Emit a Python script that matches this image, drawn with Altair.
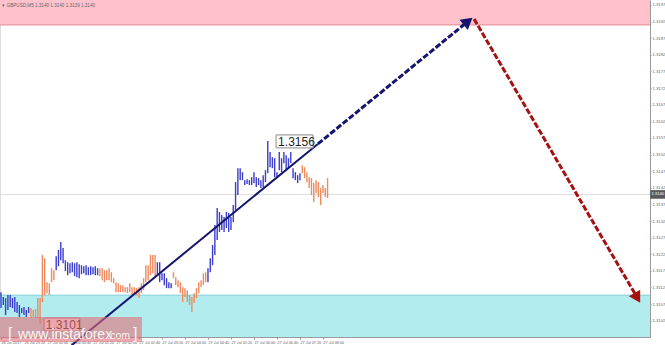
import json
import altair as alt
import pandas as pd

# ---------------- data ----------------
bar_high = [1.31106, 1.31091, 1.31088, 1.31097, 1.31097, 1.31088, 1.31091, 1.31076, 1.31067, 1.31058,
            1.31061, 1.31052, 1.31061, 1.31058, 1.31052, 1.31055, 1.31088, 1.31088, 1.31218, 1.31208,
            1.31136, 1.31133, 1.31178, 1.31172, 1.31214, 1.31233, 1.31257, 1.31239, 1.31202, 1.31196,
            1.31193, 1.31196, 1.31193, 1.31196, 1.31190, 1.31187, 1.31184, 1.31187, 1.31181, 1.31184,
            1.31181, 1.31184, 1.31178, 1.31178, 1.31178, 1.31172, 1.31172, 1.31178, 1.31166, 1.31148,
            1.31136, 1.31133, 1.31127, 1.31127, 1.31121, 1.31121, 1.31133, 1.31121, 1.31121, 1.31118,
            1.31121, 1.31133, 1.31148, 1.31187, 1.31187, 1.31218, 1.31218, 1.31218, 1.31196, 1.31196,
            1.31163, 1.31163, 1.31148, 1.31136, 1.31133, 1.31166, 1.31151, 1.31142, 1.31136, 1.31121,
            1.31118, 1.31112, 1.31097, 1.31091, 1.31103, 1.31118, 1.31136, 1.31142, 1.31163, 1.31166,
            1.31178, 1.31208, 1.31248, 1.31308, 1.31359, 1.31347, 1.31338, 1.31332, 1.31347, 1.31344,
            1.31332, 1.31368, 1.31437, 1.31479, 1.31479, 1.31467, 1.31443, 1.31446, 1.31443, 1.31452,
            1.31467, 1.31452, 1.31449, 1.31443, 1.31458, 1.31473, 1.31561, 1.31528, 1.31512, 1.31509,
            1.31467, 1.31528, 1.31509, 1.31528, 1.31518, 1.31509, 1.31528, 1.31479, 1.31467, 1.31458,
            1.31464, 1.31488, 1.31482, 1.31467, 1.31452, 1.31449, 1.31434, 1.31443, 1.31437, 1.31419,
            1.31428, 1.31419, 1.31449]
bar_low = [1.31058, 1.31067, 1.31037, 1.31052, 1.31061, 1.31058, 1.31046, 1.31043, 1.31031, 1.31043,
           1.31037, 1.31031, 1.31043, 1.31028, 1.31031, 1.31028, 1.31028, 1.31010, 1.31076, 1.31097,
           1.31103, 1.31097, 1.31136, 1.31142, 1.31172, 1.31184, 1.31202, 1.31193, 1.31169, 1.31157,
           1.31163, 1.31166, 1.31154, 1.31151, 1.31148, 1.31160, 1.31163, 1.31157, 1.31157, 1.31157,
           1.31160, 1.31157, 1.31157, 1.31154, 1.31142, 1.31136, 1.31142, 1.31142, 1.31136, 1.31133,
           1.31106, 1.31106, 1.31106, 1.31106, 1.31106, 1.31103, 1.31106, 1.31097, 1.31100, 1.31097,
           1.31088, 1.31103, 1.31112, 1.31136, 1.31142, 1.31157, 1.31163, 1.31148, 1.31157, 1.31136,
           1.31142, 1.31127, 1.31118, 1.31118, 1.31118, 1.31148, 1.31127, 1.31121, 1.31103, 1.31076,
           1.31091, 1.31076, 1.31067, 1.31046, 1.31073, 1.31088, 1.31103, 1.31121, 1.31127, 1.31136,
           1.31136, 1.31166, 1.31187, 1.31218, 1.31263, 1.31287, 1.31293, 1.31287, 1.31299, 1.31287,
           1.31293, 1.31317, 1.31353, 1.31398, 1.31443, 1.31443, 1.31428, 1.31431, 1.31428, 1.31428,
           1.31434, 1.31422, 1.31428, 1.31419, 1.31422, 1.31437, 1.31464, 1.31482, 1.31479, 1.31452,
           1.31449, 1.31473, 1.31467, 1.31494, 1.31473, 1.31479, 1.31494, 1.31449, 1.31443, 1.31434,
           1.31443, 1.31464, 1.31449, 1.31437, 1.31419, 1.31398, 1.31377, 1.31404, 1.31392, 1.31368,
           1.31404, 1.31392, 1.31389]
bar_up = [1] * 13 + [0] * 11 + [1] * 19 + [0] * 25 + [1] * 7 + [0] * 15 + [1] * 41 + [0] * 12

time_labels = ["26 Jul 2017", "26 Jul 23:20", "27 Jul 00:00", "27 Jul 00:40", "27 Jul 01:20",
               "27 Jul 02:00", "27 Jul 02:40", "27 Jul 03:20", "27 Jul 04:00", "27 Jul 04:40",
               "27 Jul 05:20", "27 Jul 06:00", "27 Jul 06:40", "27 Jul 07:20", "27 Jul 08:00"]
time_tick_idx = [0, 10, 20, 30, 40, 50, 60, 70, 80, 90, 100, 110, 120, 130, 140]
price_ticks = [1.3102, 1.3107, 1.3112, 1.3117, 1.3122, 1.3127, 1.3132, 1.3137, 1.3142, 1.3147,
               1.3152, 1.3157, 1.3162, 1.3167, 1.3172, 1.3177, 1.3182, 1.3187, 1.3192, 1.3197]

x_domain = [-0.43, 282.2]
y_domain = [1.30971, 1.31985]

resistance_zone = [1.3191, 1.31985]
support_zone = [1.30971, 1.31097]
current_price = 1.3140

trend_i = [30.7, 137.8]
trend_p = [1.30946, 1.31552]
forecast_up_i = [137.8, 203.1]
forecast_up_p = [1.31552, 1.31921]
forecast_down_i = [205.7, 276.7]
forecast_down_p = [1.31928, 1.31089]

BLUE = "#3d3dcc"
ORANGE = "#ee8a5e"
NAVY = "#15156f"
RED = "#a51212"
AXIS_FONT = "Liberation Sans"

# ---------------- chart ----------------
xs = alt.Scale(domain=x_domain, nice=False, zero=False)
ys = alt.Scale(domain=y_domain, nice=False, zero=False)

label_js = json.dumps(time_labels)
xaxis = alt.Axis(values=time_tick_idx, labelExpr=f"{label_js}[round(datum.value/10)]",
                 labelAlign="left", labelBaseline="top", labelPadding=1, tickSize=2,
                 labelFontSize=3.8, labelColor="#666", domainColor="#999", tickColor="#999",
                 grid=False, title=None, labelOverlap=False, labelFlush=False, labelFont=AXIS_FONT)
yaxis = alt.Axis(orient="right", values=price_ticks, labelExpr="format(datum.value, '.4f')",
                 labelFontSize=4.2, labelColor="#666", tickSize=1, labelPadding=1, domainColor="#999",
                 tickColor="#999", grid=False, title=None, labelFont=AXIS_FONT, labelOverlap=False)


def X(f):
    return alt.X(f, scale=xs, axis=xaxis)


def Y(f):
    return alt.Y(f, scale=ys, axis=yaxis)


def rect_layer(x0, x1, y0, y1, **kw):
    return alt.Chart(pd.DataFrame({"x0": [x0], "x1": [x1], "y0": [y0], "y1": [y1]})).mark_rect(**kw).encode(
        x=X("x0:Q"), x2="x1:Q", y=Y("y0:Q"), y2="y1:Q")


def hline(y, **kw):
    return alt.Chart(pd.DataFrame({"x0": [x_domain[0]], "x1": [x_domain[1]], "y": [y]})).mark_rule(**kw).encode(
        x=X("x0:Q"), x2="x1:Q", y=Y("y:Q"))


df_bars = pd.DataFrame({"i": list(range(len(bar_high))), "hi": bar_high, "lo": bar_low, "up": bar_up})

res_zone = rect_layer(x_domain[0], x_domain[1], resistance_zone[0], resistance_zone[1], fill="#ffc2cc")
sup_zone = rect_layer(x_domain[0], x_domain[1], support_zone[0], support_zone[1], fill="#b2ecee")
res_edge = hline(resistance_zone[0], color="#dc8c98", strokeWidth=1)
sup_edge = hline(support_zone[1], color="#86d2da", strokeWidth=1)
price_line = hline(current_price, color="#dcdcdc", strokeWidth=1)

bars_up = alt.Chart(df_bars).transform_filter("datum.up == 1").mark_rule(strokeWidth=1.4, color=BLUE).encode(
    x=X("i:Q"), y=Y("lo:Q"), y2="hi:Q")
bars_dn = alt.Chart(df_bars).transform_filter("datum.up == 0").mark_rule(strokeWidth=1.4, color=ORANGE).encode(
    x=X("i:Q"), y=Y("lo:Q"), y2="hi:Q")


def seg(ii, pp, **kw):
    return alt.Chart(pd.DataFrame({"i": ii, "p": pp})).mark_line(**kw).encode(x=X("i:Q"), y=Y("p:Q"))


trend = seg(trend_i, trend_p, color=NAVY, strokeWidth=2)
fc_up = seg(forecast_up_i, forecast_up_p, color=NAVY, strokeWidth=3, strokeDash=[6, 2])
fc_down = seg(forecast_down_i, forecast_down_p, color=RED, strokeWidth=3, strokeDash=[6, 2])


def head(i, p, ang, col):
    return alt.Chart(pd.DataFrame({"i": [i], "p": [p]})).mark_point(
        shape="triangle-up", filled=True, size=170, angle=ang, color=col, opacity=1).encode(
        x=X("i:Q"), y=Y("p:Q"))


head_up = head(forecast_up_i[1], forecast_up_p[1], 51, NAVY)
head_down = head(forecast_down_i[1], forecast_down_p[1], 150, RED)

box_hi = rect_layer(119.6, 135.7, 1.31540, 1.31579, fill="white", stroke="#8a8a8a", strokeWidth=1)
box_lo = rect_layer(18.7, 34.3, 1.30989, 1.31028, fill="white", stroke="#8a8a8a", strokeWidth=1)
box_text = alt.Chart(pd.DataFrame({"i": [120.5, 19.5], "p": [1.31559, 1.31008],
                                   "t": ["1.3156", "1.3101"]})).mark_text(
    align="left", baseline="middle", fontSize=12, font="Liberation Sans", color="#222").encode(
    x=X("i:Q"), y=Y("p:Q"), text="t:N")

wm_rect = rect_layer(x_domain[0], 61.3, 1.30956, 1.31031, fill="#e26e76", opacity=0.6)
wm_text = alt.Chart(pd.DataFrame({
    "i": [3.0, 7.4, 46.2, 57.4], "p": [1.30965] * 4,
    "t": ["[", "www.instaforex", ".com", "]"], "s": [16, 14, 10.5, 16]})).mark_text(
    align="left", baseline="alphabetic", font="Liberation Sans", color="#fafafa", opacity=0.95).encode(
    x=X("i:Q"), y=Y("p:Q"), text="t:N", size=alt.Size("s:Q", scale=None, legend=None))

tag = rect_layer(282.3, 288.8, 1.31387, 1.31413, fill="#5a5a5a")
tag_text = alt.Chart(pd.DataFrame({"i": [282.8], "p": [current_price], "t": ["1.3140"]})).mark_text(
    align="left", baseline="middle", fontSize=4.2, font=AXIS_FONT, color="white").encode(
    x=X("i:Q"), y=Y("p:Q"), text="t:N")

header = alt.Chart(pd.DataFrame({"i": [0.6], "p": [1.31967],
                                 "t": ["\u25BE GBPUSD,M5  1.3140 1.3140 1.3139 1.3140"]})).mark_text(
    align="left", baseline="middle", fontSize=4.6, font=AXIS_FONT, color="#666").encode(
    x=X("i:Q"), y=Y("p:Q"), text="t:N")

chart = alt.layer(
    res_zone, sup_zone, res_edge, sup_edge, price_line, bars_up, bars_dn, trend, fc_up, fc_down,
    head_up, head_down, box_hi, box_lo, box_text, wm_rect, wm_text, tag, tag_text, header
).properties(
    width=650, height=337,
    autosize=alt.AutoSizeParams(type="none"),
    padding={"left": 0, "top": 0, "right": 15, "bottom": 8},
).configure_view(stroke="#c4c4c4", strokeWidth=1).configure(background="white")

chart.save("out.html", embed_options={"renderer": "svg", "actions": False})
